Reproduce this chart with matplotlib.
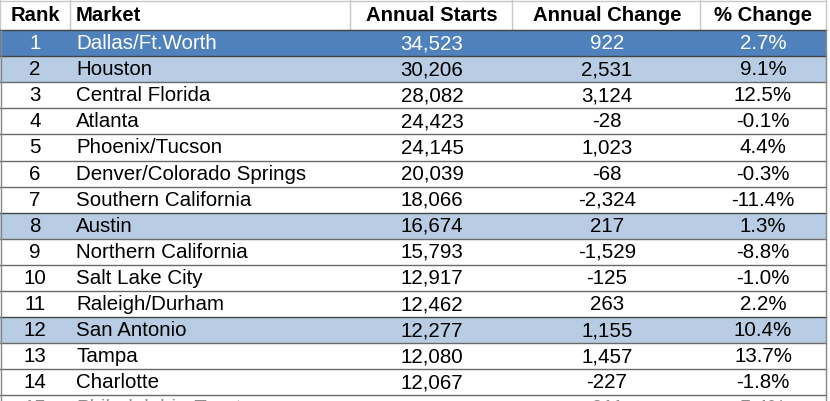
import matplotlib
matplotlib.use("Agg")
import matplotlib.pyplot as plt
from matplotlib.patches import Rectangle

plt.rcParams["font.family"] = ["Liberation Sans", "DejaVu Sans"]

headers = ["Rank", "Market", "Annual Starts", "Annual Change", "% Change"]
ranks = [str(i) for i in range(1, 16)]
markets = ["Dallas/Ft.Worth", "Houston", "Central Florida", "Atlanta", "Phoenix/Tucson",
           "Denver/Colorado Springs", "Southern California", "Austin", "Northern California",
           "Salt Lake City", "Raleigh/Durham", "San Antonio", "Tampa", "Charlotte",
           "Philadelphia-Trenton"]
starts = ["34,523", "30,206", "28,082", "24,423", "24,145", "20,039", "18,066", "16,674",
          "15,793", "12,917", "12,462", "12,277", "12,080", "12,067", "11,934"]
changes = ["922", "2,531", "3,124", "-28", "1,023", "-68", "-2,324", "217", "-1,529",
           "-125", "263", "1,155", "1,457", "-227", "611"]
pct = ["2.7%", "9.1%", "12.5%", "-0.1%", "4.4%", "-0.3%", "-11.4%", "1.3%", "-8.8%",
       "-1.0%", "2.2%", "10.4%", "13.7%", "-1.8%", "5.4%"]
highlight = {1: "dark", 2: "light", 8: "light", 12: "light"}

W, H = 830, 401
fig = plt.figure(figsize=(W / 100, H / 100), dpi=100)
ax = fig.add_axes([0, 0, 1, 1])
ax.set_xlim(0, W)
ax.set_ylim(H, 0)
ax.axis("off")

col_edges = [0, 70, 350, 512, 700, 826]
header_h = 30
row_h = 26.1
fs = 14.8

# header
ax.add_patch(Rectangle((0, 0), col_edges[-1], header_h, facecolor="white", edgecolor="none"))
for x in col_edges:
    ax.plot([x, x], [0, header_h], color="#c8c8c8", lw=1)
ax.plot([0, col_edges[-1]], [0.5, 0.5], color="#c8c8c8", lw=1)
hx = [35, 76, 432, 607, 763]
ha_h = ["center", "left", "center", "center", "center"]
for x, t, ha in zip(hx, headers, ha_h):
    ax.text(x, header_h / 2 + 0.5, t, ha=ha, va="center", fontsize=14.6, fontweight="bold", color="black")

for i in range(len(ranks)):
    top = header_h + row_h * i
    kind = highlight.get(i + 1)
    face = {"dark": "#4f81bd", "light": "#b8cce4"}.get(kind, "white")
    tcol = "white" if kind == "dark" else "black"
    ax.add_patch(Rectangle((0, top), col_edges[-1], row_h, facecolor=face, edgecolor="none"))
    ax.plot([0, col_edges[-1]], [top, top], color="#444444" if i < 2 or kind else "#6a6a6a", lw=1)
    yc = top + row_h / 2 + 0.5
    alpha = 0.45 if i == 14 else 1.0
    ax.text(35, yc, ranks[i], ha="center", va="center", fontsize=fs, color=tcol, alpha=alpha)
    ax.text(76, yc, markets[i], ha="left", va="center", fontsize=fs, color=tcol, alpha=alpha)
    ax.text(432, yc, starts[i], ha="center", va="center", fontsize=fs, color=tcol, alpha=alpha)
    ax.text(607, yc, changes[i], ha="center", va="center", fontsize=fs, color=tcol, alpha=alpha)
    ax.text(763, yc, pct[i], ha="center", va="center", fontsize=fs, color=tcol, alpha=alpha)

ax.plot([0.5, 0.5], [header_h, H], color="#888888", lw=1)
ax.plot([col_edges[-1], col_edges[-1]], [header_h, H], color="#888888", lw=1)

fig.savefig("out.png", dpi=100)
